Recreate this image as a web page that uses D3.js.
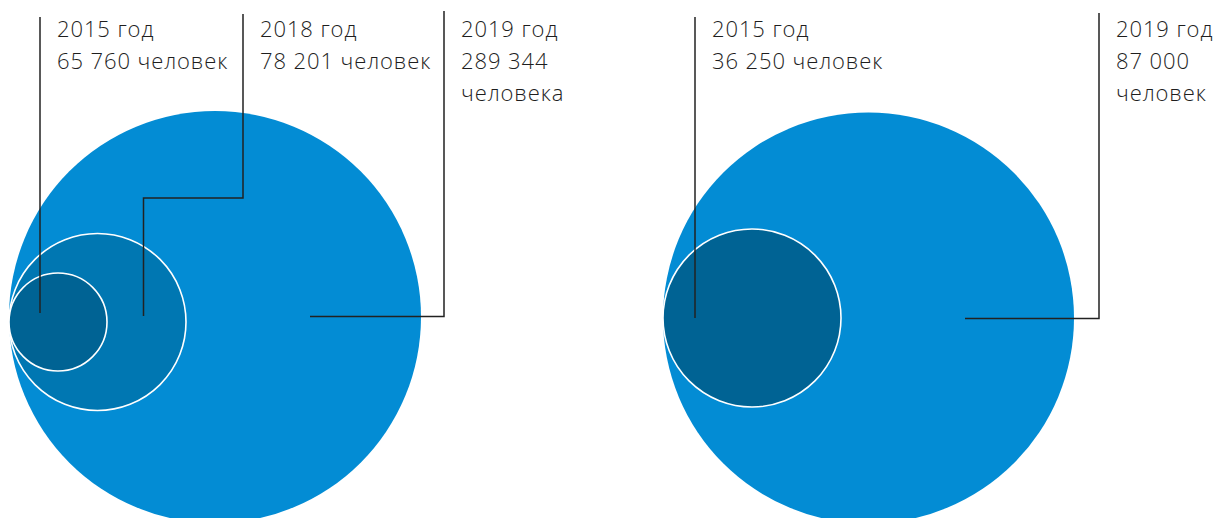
<!DOCTYPE html>
<html>
<head>
<meta charset="utf-8">
<script src="https://cdn.jsdelivr.net/npm/d3@7"></script>
<style>
  html, body { margin: 0; padding: 0; background: #fff; overflow: hidden; }
  svg { display: block; }
  .label { font-family: "Open Sans", Roboto, sans-serif; font-weight: 300; font-size: 22px; letter-spacing: 0.9px; fill: #1e1e1e; }
</style>
</head>
<body>
<div id="chart"></div>
<script>
// data: two groups, years and people counts
const leftYears = ['2015 год', '2018 год', '2019 год'];
const leftValues = [65760, 78201, 289344];
const leftUnits = ['человек', 'человек', 'человека'];

const rightYears = ['2015 год', '2019 год'];
const rightValues = [36250, 87000];
const rightUnits = ['человек', 'человек'];

const width = 1222;
const height = 518;

const fmt = v => d3.format(',')(v).replace(/,/g, ' ');

const svg = d3.select('#chart')
    .append('svg')
    .attr('width', width)
    .attr('height', height);

function drawGroup(cfg) {
    const g = svg.append('g');
    const items = cfg.years.map((y, i) => ({ year: y, value: cfg.values[i], unit: cfg.units[i], i }));

    // circles are drawn big first, all touching the left edge
    const sorted = items.slice().sort((a, b) => b.value - a.value);
    g.selectAll('circle')
        .data(sorted)
        .enter()
        .append('circle')
        .attr('cx', d => cfg.x0 + cfg.r(d.value))
        .attr('cy', d => cfg.cy(d.value))
        .attr('r', d => cfg.r(d.value))
        .attr('fill', d => cfg.color(d.i))
        .attr('stroke', (d, i) => i === 0 ? 'none' : '#fff')
        .attr('stroke-width', 1.6);

    // leader lines
    items.forEach((d, i) => {
        const a = cfg.leaders[i];
        const pts = [[a.x, a.top]].concat(a.path);
        g.append('path')
            .attr('d', d3.line()(pts))
            .attr('fill', 'none')
            .attr('stroke', '#222')
            .attr('stroke-width', 1.5);

        const lines = a.wrap ? [d.year, fmt(d.value), d.unit] : [d.year, fmt(d.value) + ' ' + d.unit];
        const t = g.append('text')
            .attr('class', 'label')
            .attr('x', a.x + 17)
            .attr('y', 37);
        lines.forEach((s, k) => {
            t.append('tspan')
                .attr('x', a.x + 17)
                .attr('y', 37 + k * 32)
                .text(s);
        });
    });
}

// left group
const leftR = d3.scaleLinear().domain([0, 65760, 78201, 289344]).range([0, 49, 88.5, 206]);
drawGroup({
    years: leftYears, values: leftValues, units: leftUnits,
    x0: 9,
    r: leftR,
    cy: v => v === d3.max(leftValues) ? 317 : 322,
    color: d3.scaleOrdinal().domain([0, 1, 2]).range(['#006394', '#0077b2', '#038cd4']),
    leaders: [
        { x: 40, top: 17, path: [[40, 313]] },
        { x: 243, top: 14, path: [[243, 198], [143.5, 198], [143.5, 316]] },
        { x: 444, top: 11, path: [[444, 316.5], [310, 316.5]], wrap: true }
    ]
});

// right group
const rightR = d3.scaleLinear().domain([0, 36250, 87000]).range([0, 89, 205.5]);
drawGroup({
    years: rightYears, values: rightValues, units: rightUnits,
    x0: 663,
    r: rightR,
    cy: v => 318,
    color: d3.scaleOrdinal().domain([0, 1]).range(['#006394', '#038cd4']),
    leaders: [
        { x: 695, top: 17, path: [[695, 318]] },
        { x: 1099, top: 13, path: [[1099, 318.5], [965, 318.5]], wrap: true }
    ]
});
</script>
</body>
</html>
